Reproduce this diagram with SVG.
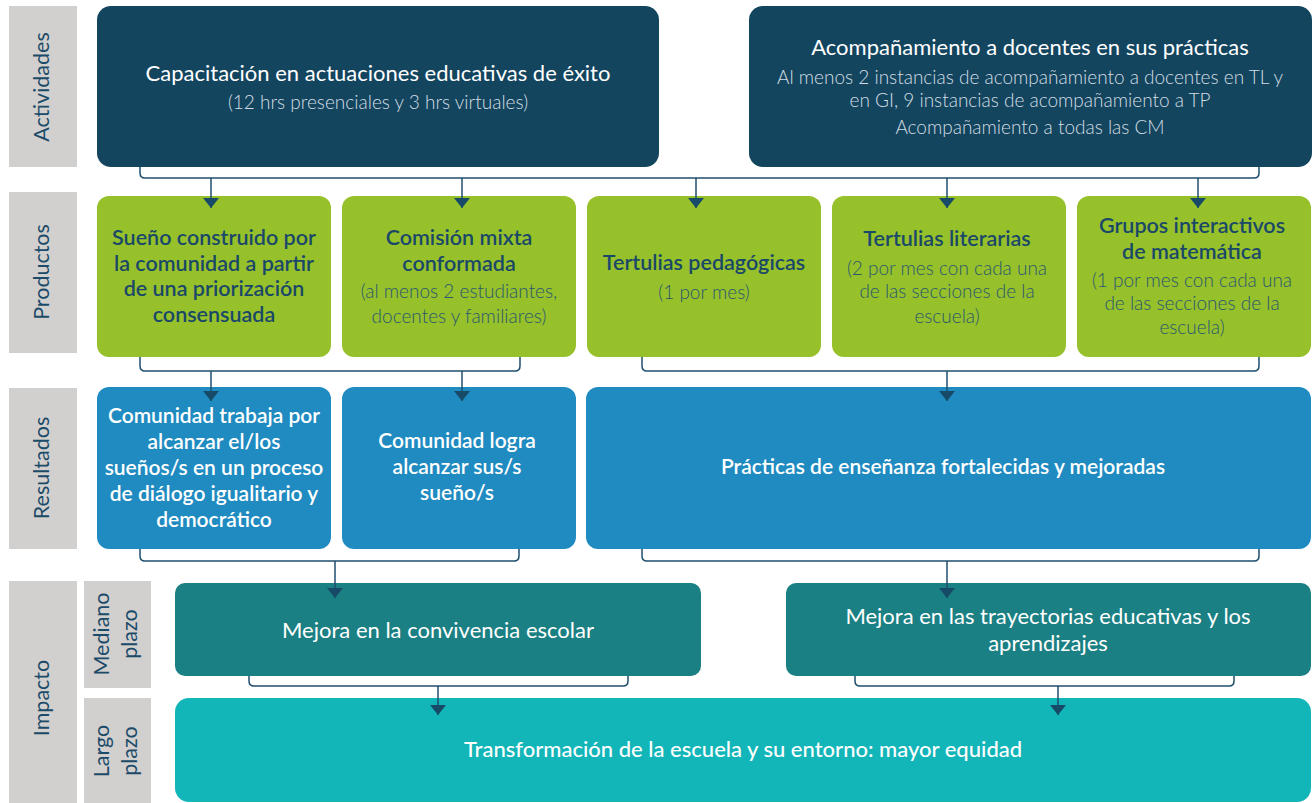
<svg xmlns="http://www.w3.org/2000/svg" width="1312" height="803" viewBox="0 0 1312 803">
<defs>
<marker id="ah" markerWidth="18" markerHeight="12" refX="8" refY="10" orient="0" markerUnits="userSpaceOnUse">
<path d="M0,0 L16,0 L8,10 z" fill="#164a66"/>
</marker>
<style>
text{font-family:Lato,"Noto Sans","Liberation Sans",sans-serif;text-anchor:middle}
.lab{fill:#d2d0ce}
.lt{fill:#1c4b69;font-size:21.5px}
.act{fill:#13455f}
.prod{fill:#96c12a}
.res{fill:#1f8bc1}
.med{fill:#1b8083}
.lar{fill:#12b5b8}
.wt{fill:#ffffff;font-size:22px}
.ws{fill:#d3dde3;font-size:19px;font-weight:300}
.pt{fill:#1a4868;font-size:21.5px;font-weight:600}
.ps{fill:#2a5670;font-size:19px;font-weight:300}
.rt{fill:#ffffff;font-size:21px;font-weight:600}
.it{fill:#ffffff;font-size:22px}
.conn path{fill:none;stroke:#1e4f6e;stroke-width:1.5}
.conn line{stroke:#1e4f6e;stroke-width:1.5}
</style>
</defs>
<g id="labels">
<g id="lab-actividades"><rect class="lab" x="9" y="6" width="68" height="161"/><text class="lt" transform="translate(42,87) rotate(-90)" dy="7">Actividades</text></g>
<g id="lab-productos"><rect class="lab" x="9" y="192" width="68" height="161"/><text class="lt" transform="translate(42,272) rotate(-90)" dy="7">Productos</text></g>
<g id="lab-resultados"><rect class="lab" x="9" y="388" width="68" height="161"/><text class="lt" transform="translate(42,468) rotate(-90)" dy="7">Resultados</text></g>
<g id="lab-impacto"><rect class="lab" x="9" y="581" width="68" height="222"/><text class="lt" transform="translate(42,698) rotate(-90)" dy="7">Impacto</text></g>
<g id="lab-mediano"><rect class="lab" x="84" y="581" width="67" height="107"/><text class="lt" transform="translate(102,634) rotate(-90)" dy="7">Mediano</text><text class="lt" transform="translate(130,634) rotate(-90)" dy="7">plazo</text></g>
<g id="lab-largo"><rect class="lab" x="84" y="698" width="67" height="105"/><text class="lt" transform="translate(102,751) rotate(-90)" dy="7">Largo</text><text class="lt" transform="translate(130,751) rotate(-90)" dy="7">plazo</text></g>
</g>
<g id="act-capacitacion"><rect class="act" x="97" y="6" width="562" height="161" rx="14"/>
<text class="wt" x="378" y="81">Capacitación en actuaciones educativas de éxito</text>
<text class="ws" x="378" y="109">(12 hrs presenciales y 3 hrs virtuales)</text></g>
<g id="act-acompanamiento"><rect class="act" x="749" y="6" width="563" height="161" rx="14"/>
<text class="wt" x="1030" y="55">Acompañamiento a docentes en sus prácticas</text>
<text class="ws" x="1030" y="84">Al menos 2 instancias de acompañamiento a docentes en TL y</text>
<text class="ws" x="1030" y="107">en GI, 9 instancias de acompañamiento a TP</text>
<text class="ws" x="1030" y="134">Acompañamiento a todas las CM</text></g>
<g id="prod-sueno"><rect class="prod" x="97" y="196" width="234" height="161" rx="12"/>
<text class="pt" x="214" y="245">Sueño construido por</text>
<text class="pt" x="214" y="271">la comunidad a partir</text>
<text class="pt" x="214" y="296">de una priorización</text>
<text class="pt" x="214" y="322">consensuada</text></g>
<g id="prod-comision"><rect class="prod" x="342" y="196" width="234" height="161" rx="12"/>
<text class="pt" x="459" y="245">Comisión mixta</text>
<text class="pt" x="459" y="271">conformada</text>
<text class="ps" x="459" y="298">(al menos 2 estudiantes,</text>
<text class="ps" x="459" y="323">docentes y familiares)</text></g>
<g id="prod-tertulias-ped"><rect class="prod" x="587" y="196" width="234" height="161" rx="12"/>
<text class="pt" x="704" y="270">Tertulias pedagógicas</text>
<text class="ps" x="704" y="299">(1 por mes)</text></g>
<g id="prod-tertulias-lit"><rect class="prod" x="832" y="196" width="234" height="161" rx="12"/>
<text class="pt" x="947" y="246">Tertulias literarias</text>
<text class="ps" x="947" y="275">(2 por mes con cada una</text>
<text class="ps" x="947" y="298">de las secciones de la</text>
<text class="ps" x="947" y="323">escuela)</text></g>
<g id="prod-grupos"><rect class="prod" x="1077" y="196" width="234" height="161" rx="12"/>
<text class="pt" x="1192" y="233">Grupos interactivos</text>
<text class="pt" x="1192" y="259">de matemática</text>
<text class="ps" x="1192" y="287">(1 por mes con cada una</text>
<text class="ps" x="1192" y="310">de las secciones de la</text>
<text class="ps" x="1192" y="334">escuela)</text></g>
<g id="res-trabaja"><rect class="res" x="97" y="387" width="234" height="162" rx="12"/>
<text class="rt" x="214" y="423">Comunidad trabaja por</text>
<text class="rt" x="214" y="449">alcanzar el/los</text>
<text class="rt" x="214" y="475">sueños/s en un proceso</text>
<text class="rt" x="214" y="501">de diálogo igualitario y</text>
<text class="rt" x="214" y="527">democrático</text></g>
<g id="res-logra"><rect class="res" x="342" y="387" width="234" height="162" rx="12"/>
<text class="rt" x="457" y="448">Comunidad logra</text>
<text class="rt" x="457" y="474">alcanzar sus/s</text>
<text class="rt" x="457" y="500">sueño/s</text></g>
<g id="res-practicas"><rect class="res" x="586" y="387" width="725" height="162" rx="12"/>
<text class="rt" x="943" y="474">Prácticas de enseñanza fortalecidas y mejoradas</text></g>
<g id="imp-convivencia"><rect class="med" x="175" y="583" width="526" height="93" rx="10"/>
<text class="it" x="438" y="638">Mejora en la convivencia escolar</text></g>
<g id="imp-trayectorias"><rect class="med" x="786" y="583" width="525" height="93" rx="10"/>
<text class="it" x="1048" y="624">Mejora en las trayectorias educativas y los</text>
<text class="it" x="1048" y="651">aprendizajes</text></g>
<g id="imp-transformacion"><rect class="lar" x="175" y="698" width="1136" height="104" rx="14"/>
<text class="it" x="743" y="757" style="font-weight:500">Transformación de la escuela y su entorno: mayor equidad</text></g>
<g id="connectors" class="conn">
<path d="M140,167 V173 Q140,178 145,178 H1254 Q1259,178 1259,173 V167"/>
<line x1="211" y1="178" x2="211" y2="208" marker-end="url(#ah)"/>
<line x1="462" y1="178" x2="462" y2="208" marker-end="url(#ah)"/>
<line x1="696" y1="178" x2="696" y2="208" marker-end="url(#ah)"/>
<line x1="947" y1="178" x2="947" y2="208" marker-end="url(#ah)"/>
<line x1="1198" y1="178" x2="1198" y2="208" marker-end="url(#ah)"/>
<path d="M140,357 V366 Q140,371 145,371 H515 Q520,371 520,366 V357"/>
<line x1="211" y1="371" x2="211" y2="401" marker-end="url(#ah)"/>
<line x1="462" y1="371" x2="462" y2="401" marker-end="url(#ah)"/>
<path d="M642,357 V366 Q642,371 647,371 H1254 Q1259,371 1259,366 V357"/>
<line x1="947" y1="371" x2="947" y2="401" marker-end="url(#ah)"/>
<path d="M140,549 V556 Q140,561 145,561 H514 Q519,561 519,556 V549"/>
<line x1="335" y1="561" x2="335" y2="598" marker-end="url(#ah)"/>
<path d="M642,549 V556 Q642,561 647,561 H1254 Q1259,561 1259,556 V549"/>
<line x1="947" y1="561" x2="947" y2="598" marker-end="url(#ah)"/>
<path d="M249,676 V681 Q249,686 254,686 H623 Q628,686 628,681 V676"/>
<line x1="438" y1="686" x2="438" y2="715" marker-end="url(#ah)"/>
<path d="M855,676 V681 Q855,686 860,686 H1229 Q1234,686 1234,681 V676"/>
<line x1="1058" y1="686" x2="1058" y2="715" marker-end="url(#ah)"/>
</g>
</svg>
